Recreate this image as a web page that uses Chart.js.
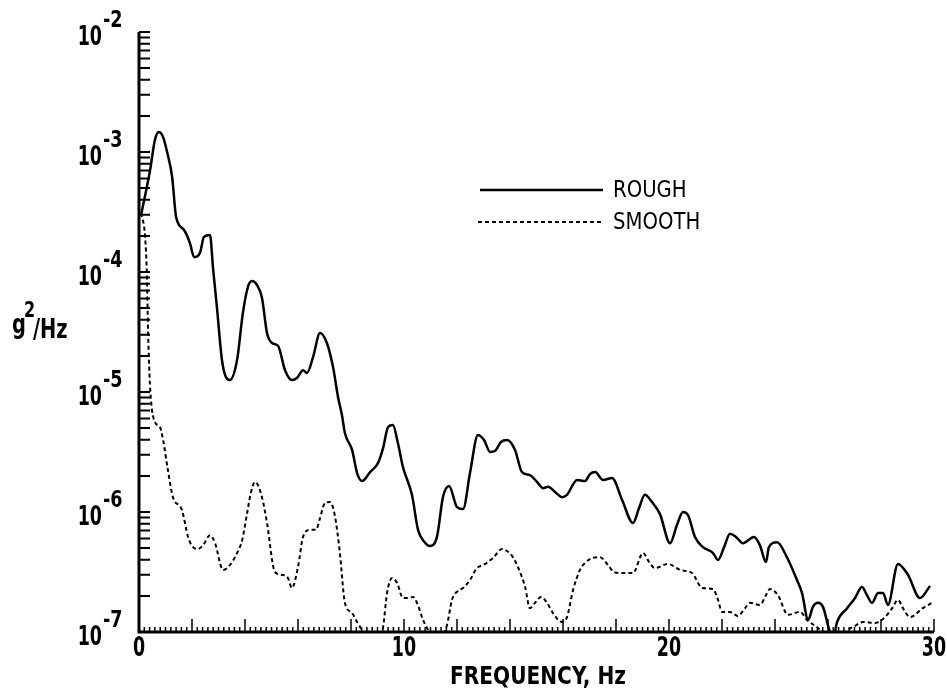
<!DOCTYPE html>
<html>
<head>
<meta charset="utf-8">
<script src="https://cdn.jsdelivr.net/npm/chart.js@4.4.0/dist/chart.umd.min.js"></script>
<style>
  html, body { margin: 0; padding: 0; background: #fff; }
  #wrap { width: 947px; height: 696px; }
</style>
</head>
<body>
<div id="wrap"><canvas id="psdChart"></canvas></div>
<script>
// values (frequency in Hz, PSD in g^2/Hz)
const freqRough = [0.08, 0.42, 0.60, 0.75, 0.91, 1.06, 1.25, 1.40, 1.70, 1.92,
  2.08, 2.30, 2.45, 2.68, 2.79, 2.94, 3.13, 3.28, 3.43, 3.70,
  3.92, 4.11, 4.26, 4.45, 4.64, 4.83, 5.02, 5.25, 5.51, 5.77,
  5.96, 6.19, 6.34, 6.57, 6.83, 7.09, 7.32, 7.51, 7.66, 7.77,
  8.04, 8.23, 8.42, 8.72, 9.02, 9.21, 9.40, 9.58, 9.77, 9.96,
  10.30, 10.53, 10.75, 10.98, 11.25, 11.47, 11.70, 12.00, 12.23, 12.49,
  12.79, 13.02, 13.25, 13.43, 13.66, 13.89, 14.19, 14.45, 14.75, 15.02,
  15.25, 15.43, 15.74, 15.96, 16.15, 16.53, 16.83, 17.02, 17.21, 17.51,
  17.85, 18.23, 18.64, 18.87, 19.09, 19.36, 19.66, 20.04, 20.30, 20.53,
  20.72, 20.98, 21.28, 21.66, 21.85, 22.08, 22.30, 22.53, 22.79, 23.21,
  23.43, 23.66, 23.77, 24.08, 24.45, 24.83, 25.02, 25.25, 25.43, 25.62,
  25.81, 26.08, 26.23, 26.34, 26.72, 27.02, 27.28, 27.47, 27.66, 27.89,
  28.08, 28.26, 28.64, 29.02, 29.47, 29.85];
const psdRough = [3.0e-4, 7.1e-4, 1.26e-3, 1.47e-3, 1.33e-3, 1.0e-3, 6.2e-4, 2.87e-4, 2.24e-4, 1.75e-4,
  1.33e-4, 1.44e-4, 1.96e-4, 2.03e-4, 1.10e-4, 5.1e-5, 1.85e-5, 1.33e-5, 1.26e-5, 1.85e-5,
  4.55e-5, 7.5e-5, 8.4e-5, 7.8e-5, 6.1e-5, 3.1e-5, 2.56e-5, 2.42e-5, 1.52e-5, 1.26e-5,
  1.31e-5, 1.52e-5, 1.44e-5, 1.96e-5, 3.1e-5, 2.56e-5, 1.62e-5, 9.1e-6, 6.4e-6, 4.55e-6,
  3.29e-6, 2.11e-6, 1.81e-6, 2.15e-6, 2.56e-6, 3.41e-6, 5.1e-6, 5.3e-6, 3.76e-6, 2.37e-6,
  1.39e-6, 7.1e-7, 5.7e-7, 5.2e-7, 6.3e-7, 1.33e-6, 1.65e-6, 1.10e-6, 1.06e-6, 2.11e-6,
  4.39e-6, 3.98e-6, 3.16e-6, 3.22e-6, 3.83e-6, 3.98e-6, 3.29e-6, 2.15e-6, 2.03e-6, 1.78e-6,
  1.58e-6, 1.62e-6, 1.44e-6, 1.33e-6, 1.39e-6, 1.85e-6, 1.81e-6, 2.07e-6, 2.15e-6, 1.85e-6,
  1.92e-6, 1.26e-6, 8.1e-7, 1.08e-6, 1.39e-6, 1.21e-6, 9.6e-7, 5.5e-7, 7.8e-7, 1.0e-6,
  9.4e-7, 6.2e-7, 5.1e-7, 4.55e-7, 3.98e-7, 5.1e-7, 6.6e-7, 6.2e-7, 5.5e-7, 6.2e-7,
  5.3e-7, 3.83e-7, 5.1e-7, 5.6e-7, 4.2e-7, 2.71e-7, 2.11e-7, 1.26e-7, 1.62e-7, 1.75e-7,
  1.62e-7, 1.0e-7, 0.95e-7, 1.21e-7, 1.58e-7, 1.92e-7, 2.37e-7, 2.03e-7, 1.75e-7, 2.11e-7,
  2.11e-7, 1.68e-7, 3.69e-7, 2.99e-7, 1.92e-7, 2.42e-7];

const freqSmooth = [0.08, 0.23, 0.30, 0.34, 0.40, 0.45, 0.60, 0.79, 0.91, 1.09,
  1.28, 1.62, 1.85, 2.04, 2.23, 2.42, 2.68, 2.87, 3.17, 3.43,
  3.70, 3.89, 4.08, 4.23, 4.38, 4.64, 4.83, 5.13, 5.43, 5.62,
  5.77, 6.00, 6.19, 6.45, 6.68, 6.83, 7.02, 7.21, 7.40, 7.58,
  7.77, 8.04, 8.23, 8.42, 8.80, 9.02, 9.21, 9.36, 9.55, 9.74,
  9.96, 10.15, 10.34, 10.49, 10.72, 10.91, 11.28, 11.62, 11.81, 12.04,
  12.23, 12.49, 12.75, 12.98, 13.17, 13.36, 13.70, 13.89, 14.11, 14.30,
  14.57, 14.75, 14.94, 15.17, 15.40, 15.62, 15.96, 16.15, 16.38, 16.64,
  16.87, 17.13, 17.40, 17.70, 17.92, 18.23, 18.64, 19.02, 19.25, 19.47,
  19.96, 20.42, 20.87, 21.25, 21.66, 21.85, 22.00, 22.30, 22.60, 22.87,
  23.06, 23.43, 23.66, 23.81, 24.11, 24.49, 24.94, 25.21, 25.58, 25.89,
  26.45, 26.94, 27.32, 27.77, 28.15, 28.42, 28.64, 28.87, 29.09, 29.58, 29.92];
const psdSmooth = [3.1e-4, 1.96e-4, 9.1e-5, 3.3e-5, 1.33e-5, 8.6e-6, 5.6e-6, 5.1e-6, 3.98e-6, 2.24e-6,
  1.33e-6, 1.04e-6, 6.2e-7, 5.1e-7, 4.92e-7, 5.3e-7, 6.4e-7, 5.5e-7, 3.29e-7, 3.61e-7,
  4.55e-7, 5.8e-7, 9.8e-7, 1.47e-6, 1.78e-6, 1.33e-6, 8.1e-7, 3.16e-7, 2.99e-7, 2.82e-7,
  2.33e-7, 3.48e-7, 6.2e-7, 7.1e-7, 7.1e-7, 8.9e-7, 1.19e-6, 1.21e-6, 9.1e-7, 4.55e-7,
  1.75e-7, 1.44e-7, 1.21e-7, 1.04e-7, 8.0e-8, 8.5e-8, 1.10e-7, 2.11e-7, 2.82e-7, 2.56e-7,
  1.92e-7, 1.92e-7, 1.96e-7, 1.75e-7, 1.26e-7, 1.04e-7, 8.5e-8, 1.14e-7, 1.85e-7, 2.2e-7,
  2.33e-7, 2.71e-7, 3.41e-7, 3.61e-7, 3.83e-7, 4.14e-7, 4.92e-7, 4.73e-7, 4.2e-7, 3.48e-7,
  2.37e-7, 1.58e-7, 1.75e-7, 1.96e-7, 1.75e-7, 1.44e-7, 1.21e-7, 1.33e-7, 2.24e-7, 3.29e-7,
  3.83e-7, 4.14e-7, 4.2e-7, 3.61e-7, 3.16e-7, 3.1e-7, 3.1e-7, 4.55e-7, 3.83e-7, 3.41e-7,
  3.69e-7, 3.29e-7, 3.1e-7, 2.33e-7, 2.28e-7, 1.85e-7, 1.47e-7, 1.47e-7, 1.36e-7, 1.58e-7,
  1.75e-7, 1.68e-7, 2.03e-7, 2.28e-7, 2.03e-7, 1.39e-7, 1.47e-7, 1.26e-7, 1.10e-7, 0.98e-7,
  0.98e-7, 1.10e-7, 1.21e-7, 1.19e-7, 1.33e-7, 1.58e-7, 1.85e-7, 1.52e-7, 1.33e-7, 1.58e-7, 1.75e-7];

// tick labels
const xTickValues = [0, 10, 20, 30];
const yTickExponents = [-2, -3, -4, -5, -6, -7];
const seriesNames = ['ROUGH', 'SMOOTH'];

const FONT = '"Liberation Sans Narrow", "DejaVu Sans Condensed", sans-serif';

function toPoints(xs, ys) {
  return xs.map((x, i) => ({ x: x, y: ys[i] }));
}

// narrow text: squeeze horizontally around the anchor point
function narrowText(ctx, text, x, y, font, sx, align) {
  ctx.save();
  ctx.font = font;
  ctx.textAlign = align;
  ctx.translate(x, y);
  ctx.scale(sx, 1);
  ctx.fillText(text, 0, 0);
  ctx.restore();
}

// axes, ticks, labels and legend drawn the old-report way
const paperAxes = {
  id: 'paperAxes',
  afterDraw(chart) {
    const ctx = chart.ctx;
    const xs = chart.scales.x;
    const ys = chart.scales.y;
    const left = xs.getPixelForValue(0);
    const right = xs.getPixelForValue(30);
    const top = ys.getPixelForValue(1e-2);
    const bottom = ys.getPixelForValue(1e-7);

    ctx.save();
    ctx.strokeStyle = '#000';
    ctx.fillStyle = '#000';

    // axis lines
    ctx.lineWidth = 3;
    ctx.beginPath();
    ctx.moveTo(left, top);
    ctx.lineTo(left, bottom);
    ctx.lineTo(right, bottom);
    ctx.stroke();

    // y ticks (inward)
    ctx.lineWidth = 2;
    ctx.beginPath();
    for (let e = -7; e < -2; e++) {
      for (let m = 1; m < 10; m++) {
        const py = ys.getPixelForValue(m * Math.pow(10, e));
        ctx.moveTo(left, py);
        ctx.lineTo(left + 11, py);
      }
    }
    ctx.moveTo(left, top);
    ctx.lineTo(left + 11, top);
    ctx.stroke();

    // x ticks (inward, every 0.2 Hz, longer every 2 Hz)
    ctx.lineWidth = 1.5;
    ctx.beginPath();
    for (let i = 0; i <= 150; i++) {
      const px = xs.getPixelForValue(i * 0.2);
      const len = (i % 10 === 0) ? 13 : 5;
      ctx.moveTo(px, bottom);
      ctx.lineTo(px, bottom - len);
    }
    ctx.stroke();

    ctx.textBaseline = 'middle';

    // x tick labels
    xTickValues.forEach(v => {
      narrowText(ctx, String(v), xs.getPixelForValue(v), bottom + 17, 'bold 27px ' + FONT, 0.72, 'center');
    });

    // y tick labels: 10 with raised exponent
    yTickExponents.forEach(e => {
      const py = ys.getPixelForValue(Math.pow(10, e));
      narrowText(ctx, '10', 102, py + 6, 'bold 27px ' + FONT, 0.72, 'right');
      narrowText(ctx, '-' + Math.abs(e), 103, py - 11, 'bold 23px ' + FONT, 0.85, 'left');
    });

    // axis titles
    ctx.font = 'bold 24px ' + FONT;
    ctx.textAlign = 'center';
    ctx.fillText('FREQUENCY, Hz', 538, 678, 176);

    ctx.textBaseline = 'alphabetic';
    narrowText(ctx, 'g', 12, 333, 'bold 27px ' + FONT, 0.8, 'left');
    narrowText(ctx, '2', 24, 317, 'bold 21px ' + FONT, 0.85, 'left');
    narrowText(ctx, '/Hz', 33, 338, 'bold 27px ' + FONT, 0.8, 'left');

    // legend
    ctx.lineWidth = 2.5;
    ctx.beginPath();
    ctx.moveTo(480, 190);
    ctx.lineTo(603, 190);
    ctx.stroke();
    ctx.lineWidth = 2;
    ctx.setLineDash([4, 3]);
    ctx.beginPath();
    ctx.moveTo(478, 222);
    ctx.lineTo(603, 222);
    ctx.stroke();
    ctx.setLineDash([]);
    ctx.textBaseline = 'middle';
    narrowText(ctx, seriesNames[0], 613, 191, '23px ' + FONT, 0.95, 'left');
    narrowText(ctx, seriesNames[1], 613, 223, '23px ' + FONT, 0.95, 'left');

    ctx.restore();
  }
};

const ctx = document.getElementById('psdChart').getContext('2d');
new Chart(ctx, {
  type: 'line',
  data: {
    datasets: [{
      label: seriesNames[0],
      data: toPoints(freqRough, psdRough),
      borderColor: '#000',
      borderWidth: 2.5,
      pointRadius: 0,
      fill: false,
      cubicInterpolationMode: 'monotone'
    }, {
      label: seriesNames[1],
      data: toPoints(freqSmooth, psdSmooth),
      borderColor: '#000',
      borderWidth: 2,
      borderDash: [4, 3],
      pointRadius: 0,
      fill: false,
      cubicInterpolationMode: 'monotone'
    }]
  },
  options: {
    responsive: true,
    maintainAspectRatio: false,
    animation: false,
    layout: { padding: { left: 139, right: 13, top: 32, bottom: 64 } },
    plugins: {
      legend: { display: false },
      tooltip: { enabled: false }
    },
    scales: {
      x: { type: 'linear', min: 0, max: 30, display: false },
      y: { type: 'logarithmic', min: 1e-7, max: 1e-2, display: false }
    }
  },
  plugins: [paperAxes]
});
</script>
</body>
</html>
